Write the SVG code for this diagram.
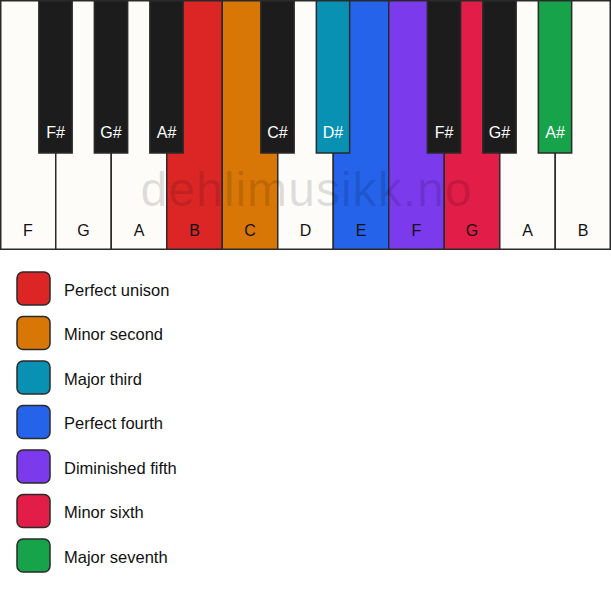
<svg xmlns="http://www.w3.org/2000/svg" width="611" height="594" viewBox="0 0 611 594">
<style>
.w{stroke:#2a2a2a;stroke-width:1.5}
.b{stroke:#2a2a2a;stroke-width:1.5}
.wl{font-family:"Liberation Sans",Arial,sans-serif;font-size:16px;fill:#111;text-anchor:middle}
.bl{font-family:"Liberation Sans",Arial,sans-serif;font-size:16px;fill:#fff;text-anchor:middle}
.lg{font-family:"Liberation Sans",Arial,sans-serif;font-size:16.5px;fill:#111}
.sw{stroke:#2a2a2a;stroke-width:1.5}
</style>
<rect width="611" height="594" fill="#ffffff"/>
<g id="white-keys">
<g id="key-F1"><rect class="w" x="0.75" y="0.75" width="55" height="248.5" fill="#fdfcf9"/><text class="wl" x="28" y="236">F</text></g>
<g id="key-G1"><rect class="w" x="55.75" y="0.75" width="55.5" height="248.5" fill="#fdfcf9"/><text class="wl" x="83.5" y="236">G</text></g>
<g id="key-A1"><rect class="w" x="111.25" y="0.75" width="55.5" height="248.5" fill="#fdfcf9"/><text class="wl" x="139" y="236">A</text></g>
<g id="key-B1"><rect class="w" x="166.75" y="0.75" width="55.5" height="248.5" fill="#dc2626"/><text class="wl" x="194.5" y="236">B</text></g>
<g id="key-C"><rect class="w" x="222.25" y="0.75" width="55.5" height="248.5" fill="#d97706"/><text class="wl" x="250" y="236">C</text></g>
<g id="key-D"><rect class="w" x="277.75" y="0.75" width="55.5" height="248.5" fill="#fdfcf9"/><text class="wl" x="305.5" y="236">D</text></g>
<g id="key-E"><rect class="w" x="333.25" y="0.75" width="55.5" height="248.5" fill="#2563eb"/><text class="wl" x="361" y="236">E</text></g>
<g id="key-F2"><rect class="w" x="388.75" y="0.75" width="55.5" height="248.5" fill="#7c3aed"/><text class="wl" x="416.5" y="236">F</text></g>
<g id="key-G2"><rect class="w" x="444.25" y="0.75" width="55.5" height="248.5" fill="#e11d48"/><text class="wl" x="472" y="236">G</text></g>
<g id="key-A2"><rect class="w" x="499.75" y="0.75" width="55.5" height="248.5" fill="#fdfcf9"/><text class="wl" x="527.5" y="236">A</text></g>
<g id="key-B2"><rect class="w" x="555.25" y="0.75" width="55" height="248.5" fill="#fdfcf9"/><text class="wl" x="583" y="236">B</text></g>
</g>
<text x="306" y="206" font-family="'Liberation Sans',Arial,sans-serif" font-size="48" fill="#000" fill-opacity="0.12" text-anchor="middle" textLength="331">dehlimusikk.no</text>
<g id="black-keys">
<g id="key-Fs1"><rect class="b" x="38.85" y="0.75" width="33.3" height="152.25" fill="#1c1c1c"/><text class="bl" x="55.5" y="138">F#</text></g>
<g id="key-Gs1"><rect class="b" x="94.35" y="0.75" width="33.3" height="152.25" fill="#1c1c1c"/><text class="bl" x="111" y="138">G#</text></g>
<g id="key-As1"><rect class="b" x="149.85" y="0.75" width="33.3" height="152.25" fill="#1c1c1c"/><text class="bl" x="166.5" y="138">A#</text></g>
<g id="key-Cs"><rect class="b" x="260.85" y="0.75" width="33.3" height="152.25" fill="#1c1c1c"/><text class="bl" x="277.5" y="138">C#</text></g>
<g id="key-Ds"><rect class="b" x="316.35" y="0.75" width="33.3" height="152.25" fill="#0891b2"/><text class="bl" x="333" y="138">D#</text></g>
<g id="key-Fs2"><rect class="b" x="427.35" y="0.75" width="33.3" height="152.25" fill="#1c1c1c"/><text class="bl" x="444" y="138">F#</text></g>
<g id="key-Gs2"><rect class="b" x="482.85" y="0.75" width="33.3" height="152.25" fill="#1c1c1c"/><text class="bl" x="499.5" y="138">G#</text></g>
<g id="key-As2"><rect class="b" x="538.35" y="0.75" width="33.3" height="152.25" fill="#16a34a"/><text class="bl" x="555" y="138">A#</text></g>
</g>
<g id="connectors"></g>
<g id="legend">
<g id="lg-1"><rect class="sw" x="17" y="272" width="33" height="33" rx="6" fill="#dc2626"/><text class="lg" x="64" y="295.5">Perfect unison</text></g>
<g id="lg-2"><rect class="sw" x="17" y="316.5" width="33" height="33" rx="6" fill="#d97706"/><text class="lg" x="64" y="340">Minor second</text></g>
<g id="lg-3"><rect class="sw" x="17" y="361" width="33" height="33" rx="6" fill="#0891b2"/><text class="lg" x="64" y="384.5">Major third</text></g>
<g id="lg-4"><rect class="sw" x="17" y="405.5" width="33" height="33" rx="6" fill="#2563eb"/><text class="lg" x="64" y="429">Perfect fourth</text></g>
<g id="lg-5"><rect class="sw" x="17" y="450" width="33" height="33" rx="6" fill="#7c3aed"/><text class="lg" x="64" y="473.5">Diminished fifth</text></g>
<g id="lg-6"><rect class="sw" x="17" y="494.5" width="33" height="33" rx="6" fill="#e11d48"/><text class="lg" x="64" y="518">Minor sixth</text></g>
<g id="lg-7"><rect class="sw" x="17" y="539" width="33" height="33" rx="6" fill="#16a34a"/><text class="lg" x="64" y="562.5">Major seventh</text></g>
</g>
</svg>
